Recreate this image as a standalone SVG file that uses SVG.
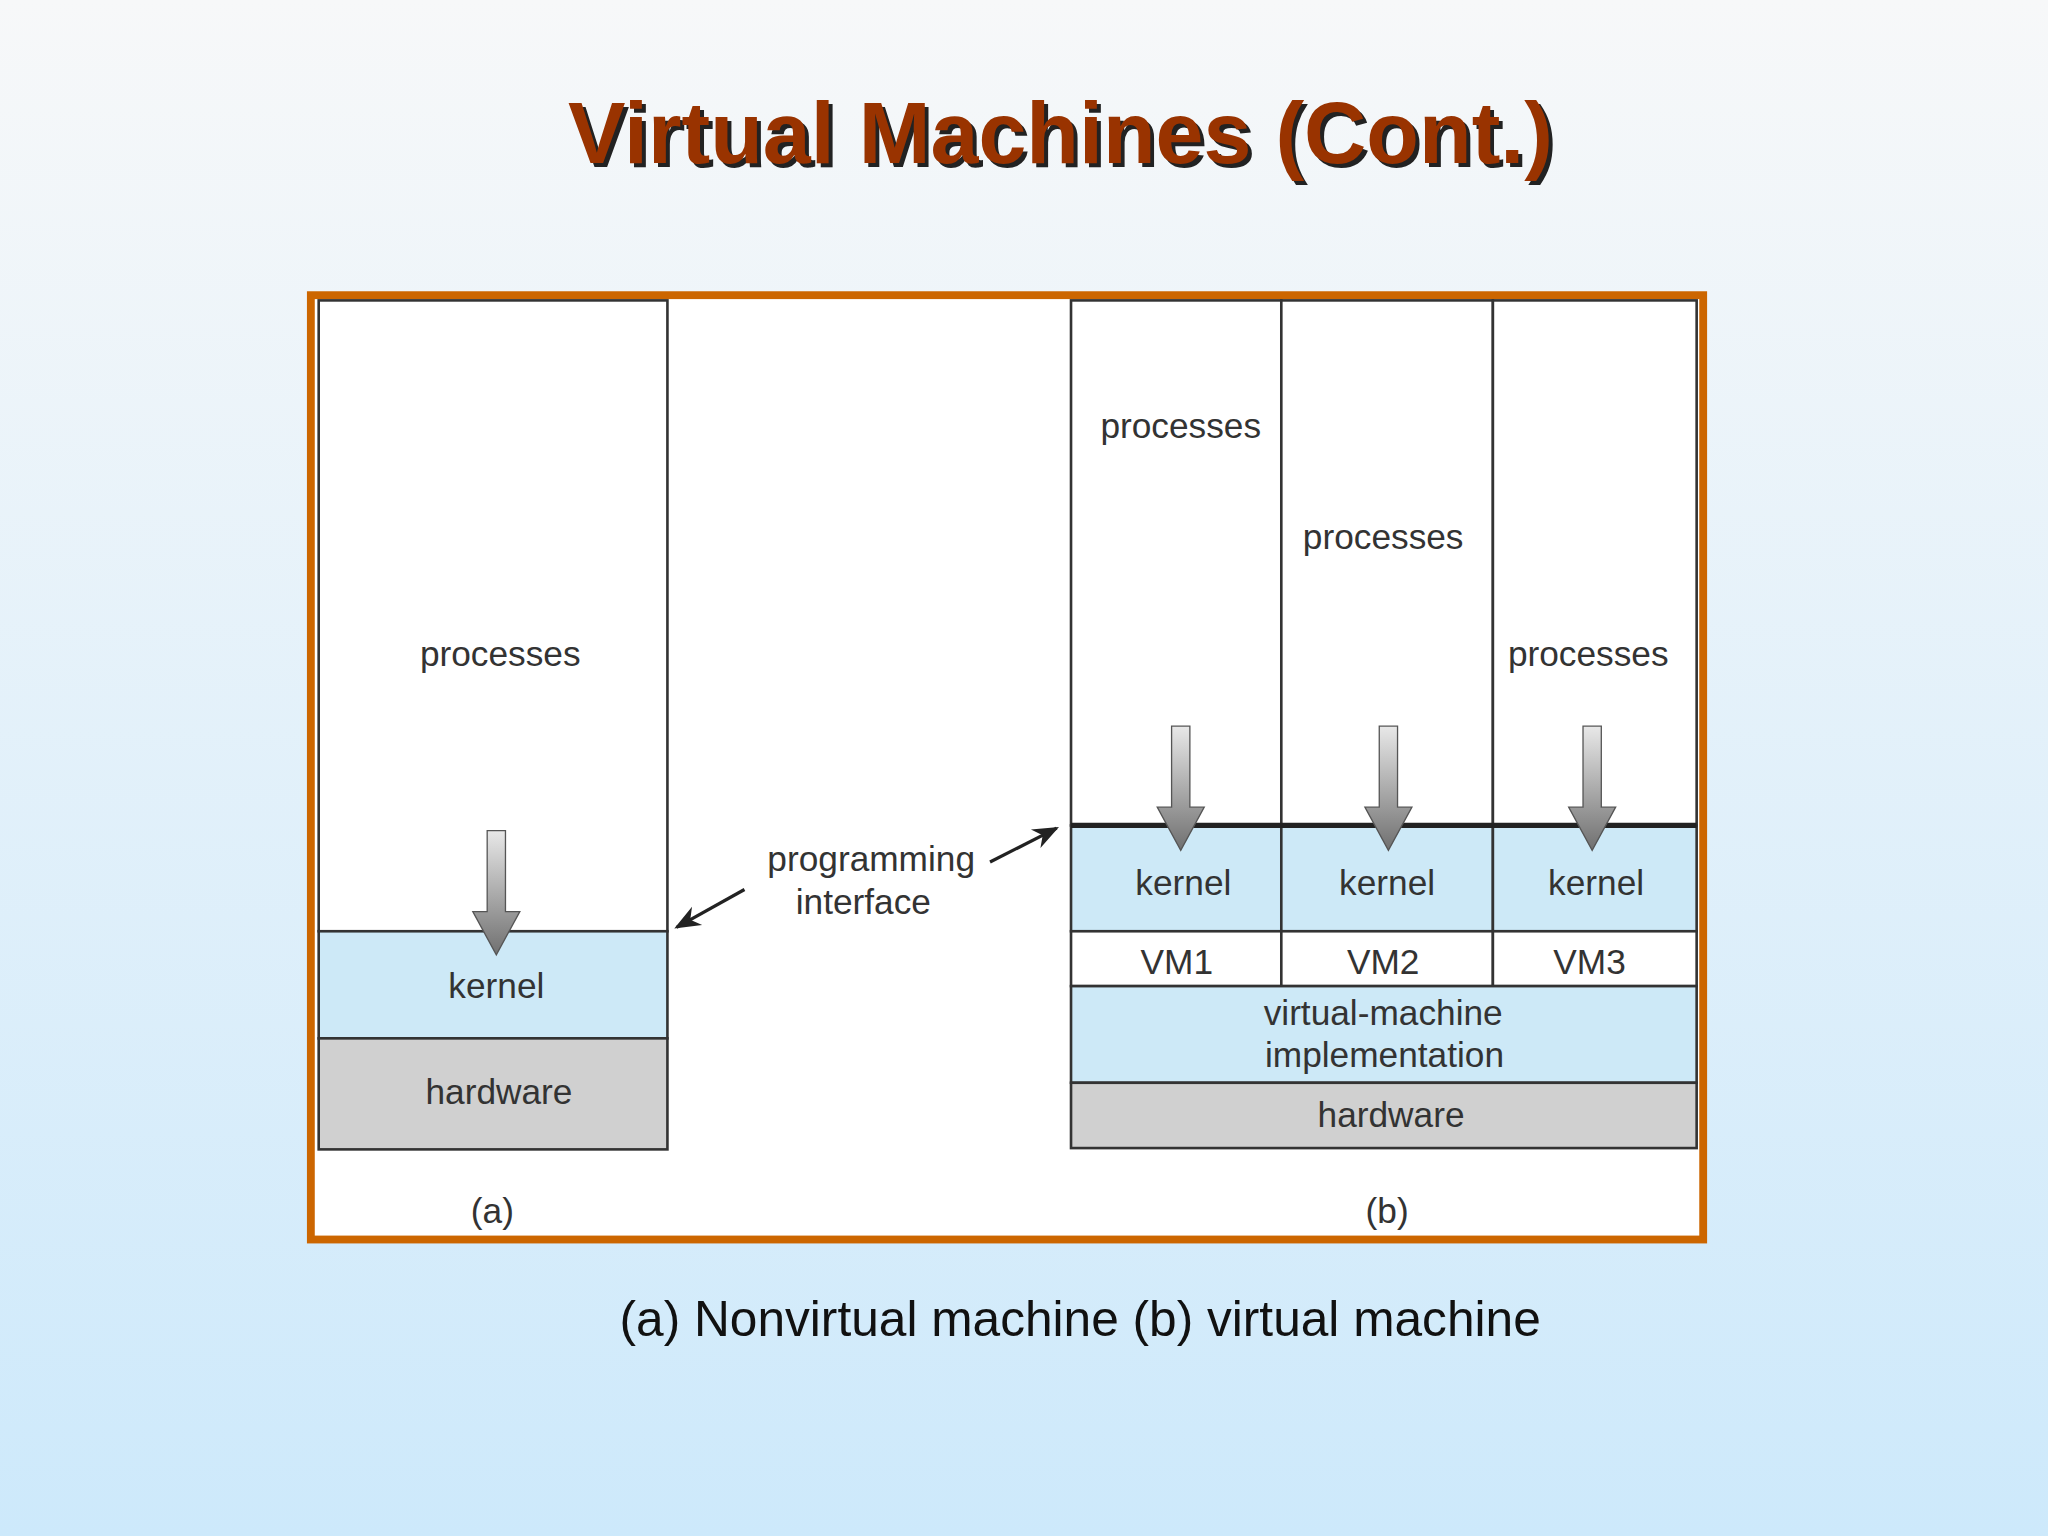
<svg xmlns="http://www.w3.org/2000/svg" width="2048" height="1536" viewBox="0 0 2048 1536">
<defs>
<linearGradient id="bg" x1="0" y1="0" x2="0" y2="1"><stop offset="0" stop-color="#f7f8f9"/><stop offset="1" stop-color="#cde9fb"/></linearGradient>
<linearGradient id="ag" x1="0" y1="0" x2="0" y2="1"><stop offset="0" stop-color="#e8e8e8"/><stop offset="1" stop-color="#707070"/></linearGradient>
<marker id="ah" viewBox="0 0 10 10" refX="9" refY="5" markerWidth="8" markerHeight="8" orient="auto-start-reverse"><path d="M0,1 L10,5 L0,9 L3,5 z" fill="#222"/></marker>
<symbol id="dn" overflow="visible"><path d="M-7,0 H7 V62 H18 L0,95 L-18,62 H-7 Z" fill="url(#ag)" stroke="#555" stroke-width="1"/></symbol>
</defs>
<style>
.l{font-family:"Liberation Sans",Arial,sans-serif;font-size:27px;fill:#333;text-anchor:middle}
.b{stroke:#333;stroke-width:2}
.k{fill:#cde9f7}.h{fill:#d0d0d0}.w{fill:#fff}
</style>
<rect width="2048" height="1536" fill="url(#bg)"/>
<g transform="scale(1.30612)">
<g id="title" font-family="Liberation Sans,Arial,sans-serif" font-weight="bold" font-size="66" text-anchor="middle">
<text x="815" y="128" fill="#222">Virtual Machines (Cont.)</text>
<text x="812" y="125" fill="#993300">Virtual Machines (Cont.)</text>
</g>
<rect id="frame" x="238" y="226" width="1066" height="723" fill="#fff" stroke="#cc6600" stroke-width="6"/>
<g id="a">
<rect class="w b" x="244" y="230" width="267" height="483"/>
<rect class="k b" x="244" y="713" width="267" height="82"/>
<rect class="h b" x="244" y="795" width="267" height="85"/>
<text class="l" x="383" y="510">processes</text>
<text class="l" x="380" y="764">kernel</text>
<text class="l" x="382" y="845">hardware</text>
<text class="l" x="377" y="936">(a)</text>
<use href="#dn" x="380" y="636" transform="translate(0,0)"/>
</g>
<g id="b">
<rect class="w b" x="820" y="230" width="161" height="402"/>
<rect class="w b" x="981" y="230" width="162" height="402"/>
<rect class="w b" x="1143" y="230" width="156" height="402"/>
<rect class="k b" x="820" y="632" width="161" height="81"/>
<rect class="k b" x="981" y="632" width="162" height="81"/>
<rect class="k b" x="1143" y="632" width="156" height="81"/>
<line x1="820" y1="632" x2="1299" y2="632" stroke="#222" stroke-width="4"/>
<rect class="w b" x="820" y="713" width="161" height="42"/>
<rect class="w b" x="981" y="713" width="162" height="42"/>
<rect class="w b" x="1143" y="713" width="156" height="42"/>
<rect class="k b" x="820" y="755" width="479" height="74"/>
<rect class="h b" x="820" y="829" width="479" height="50"/>
<text class="l" x="904" y="335">processes</text>
<text class="l" x="1059" y="420">processes</text>
<text class="l" x="1216" y="510">processes</text>
<text class="l" x="906" y="685">kernel</text>
<text class="l" x="1062" y="685">kernel</text>
<text class="l" x="1222" y="685">kernel</text>
<text class="l" x="901" y="746" font-size="25">VM1</text>
<text class="l" x="1059" y="746" font-size="25">VM2</text>
<text class="l" x="1217" y="746" font-size="25">VM3</text>
<text class="l" x="1059" y="785">virtual-machine</text>
<text class="l" x="1060" y="817">implementation</text>
<text class="l" x="1065" y="863">hardware</text>
<text class="l" x="1062" y="936">(b)</text>
<use href="#dn" x="904" y="556"/>
<use href="#dn" x="1063" y="556"/>
<use href="#dn" x="1219" y="556"/>
</g>
<g id="pi">
<text class="l" x="667" y="667">programming</text>
<text class="l" x="661" y="700">interface</text>
</g>
<g id="connectors" stroke="#222" stroke-width="2.5" fill="none">
<line x1="570" y1="681" x2="518" y2="710" marker-end="url(#ah)"/>
<line x1="758" y1="660" x2="809" y2="634" marker-end="url(#ah)"/>
</g>
<text id="caption" x="827" y="1023" font-family="Liberation Sans,Arial,sans-serif" font-size="38" text-anchor="middle" fill="#111">(a) Nonvirtual machine (b) virtual machine</text>
</g>
</svg>
